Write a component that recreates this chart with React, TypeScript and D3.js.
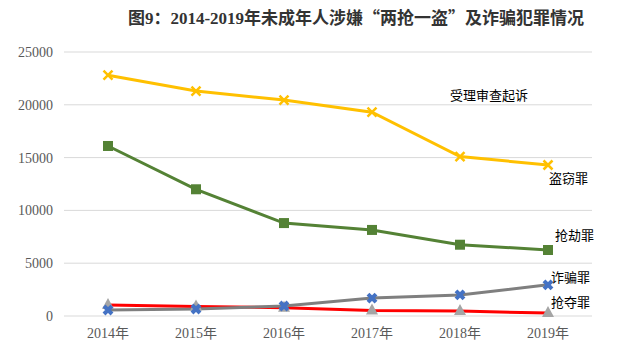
import React from "react";
import * as d3 from "d3";

const years = ["2014年", "2015年", "2016年", "2017年", "2018年", "2019年"];
const yTicks = [0, 5000, 10000, 15000, 20000, 25000];
const theft = [22800, 21300, 20450, 19300, 15100, 14300];
const robbery = [16100, 12000, 8800, 8150, 6750, 6250];
const fraud = [570, 660, 950, 1700, 2000, 2950];
const snatch = [1050, 900, 780, 520, 470, 280];

const W = 640, H = 361;
const left = 64, right = 592, top = 52, bottom = 316;

export default function App() {
  const x = d3.scaleBand<string>().domain(years).range([left, right]);
  const y = d3.scaleLinear().domain([0, 25000]).range([bottom, top]);
  const cx = (i: number) => (x(years[i]) as number) + x.bandwidth() / 2;
  const line = d3.line<number>().x((_, i) => cx(i)).y((d) => y(d));
  const serif = "'Liberation Serif', 'Noto Sans CJK SC', serif";
  const cjk = "'Liberation Serif', 'Noto Sans CJK SC', serif";
  const cjkOnly = "'Noto Sans CJK SC', sans-serif";

  const xMark = (px: number, py: number, s: number, color: string, sw: number, key: string) => (
    <path key={key} d={`M${px - s},${py - s}L${px + s},${py + s}M${px - s},${py + s}L${px + s},${py - s}`} stroke={color} strokeWidth={sw} />
  );

  return (
    <svg width={W} height={H} style={{ position: "absolute", left: 0, top: 0, background: "#fff" }}>
      <rect width={W} height={H} fill="#fff" />
      <text x={356} y={24} textAnchor="middle" fontFamily={cjk} fontWeight="bold" fontSize={17} fill="#333">
        图9：2014-2019年未成年人涉嫌<tspan fontFamily={cjkOnly}>“</tspan>两抢一盗<tspan fontFamily={cjkOnly}>”</tspan>及诈骗犯罪情况
      </text>
      {yTicks.map((t) => (
        <g key={t}>
          <line x1={left} x2={right} y1={y(t)} y2={y(t)} stroke="#d9d9d9" strokeWidth={1} />
          <text x={53} y={y(t) + 5} textAnchor="end" fontFamily={serif} fontSize={14} fill="#595959">{t}</text>
        </g>
      ))}
      {years.map((yr, i) => (
        <text key={yr} x={cx(i)} y={338} textAnchor="middle" fontFamily={cjk} fontSize={14} fill="#595959">{yr}</text>
      ))}
      <path d={line(theft) as string} fill="none" stroke="#FFC000" strokeWidth={3} />
      {theft.map((v, i) => xMark(cx(i), y(v), 4.5, "#FFC000", 2.5, "t" + i))}
      <path d={line(robbery) as string} fill="none" stroke="#548235" strokeWidth={3} />
      {robbery.map((v, i) => (
        <rect key={"r" + i} x={cx(i) - 5} y={y(v) - 5} width={10} height={10} fill="#548235" />
      ))}
      <path d={line(snatch) as string} fill="none" stroke="#FF0000" strokeWidth={3} />
      <path d={line(fraud) as string} fill="none" stroke="#7f7f7f" strokeWidth={3} />
      {snatch.map((v, i) => (
        <path key={"s" + i} d={`M${cx(i)},${y(v) - 7}L${cx(i) + 6},${y(v) + 4}L${cx(i) - 6},${y(v) + 4}Z`} fill="#A5A5A5" />
      ))}
      {fraud.map((v, i) => xMark(cx(i), y(v), 4, "#4472C4", 4, "f" + i))}
      <text x={450} y={100} fontFamily={cjk} fontSize={13} fill="#000">受理审查起诉</text>
      <text x={549} y={183} fontFamily={cjk} fontSize={13} fill="#000">盗窃罪</text>
      <text x={555} y={240} fontFamily={cjk} fontSize={13} fill="#000">抢劫罪</text>
      <text x={551} y={282} fontFamily={cjk} fontSize={13} fill="#000">诈骗罪</text>
      <text x={551} y={307} fontFamily={cjk} fontSize={13} fill="#000">抢夺罪</text>
    </svg>
  );
}
